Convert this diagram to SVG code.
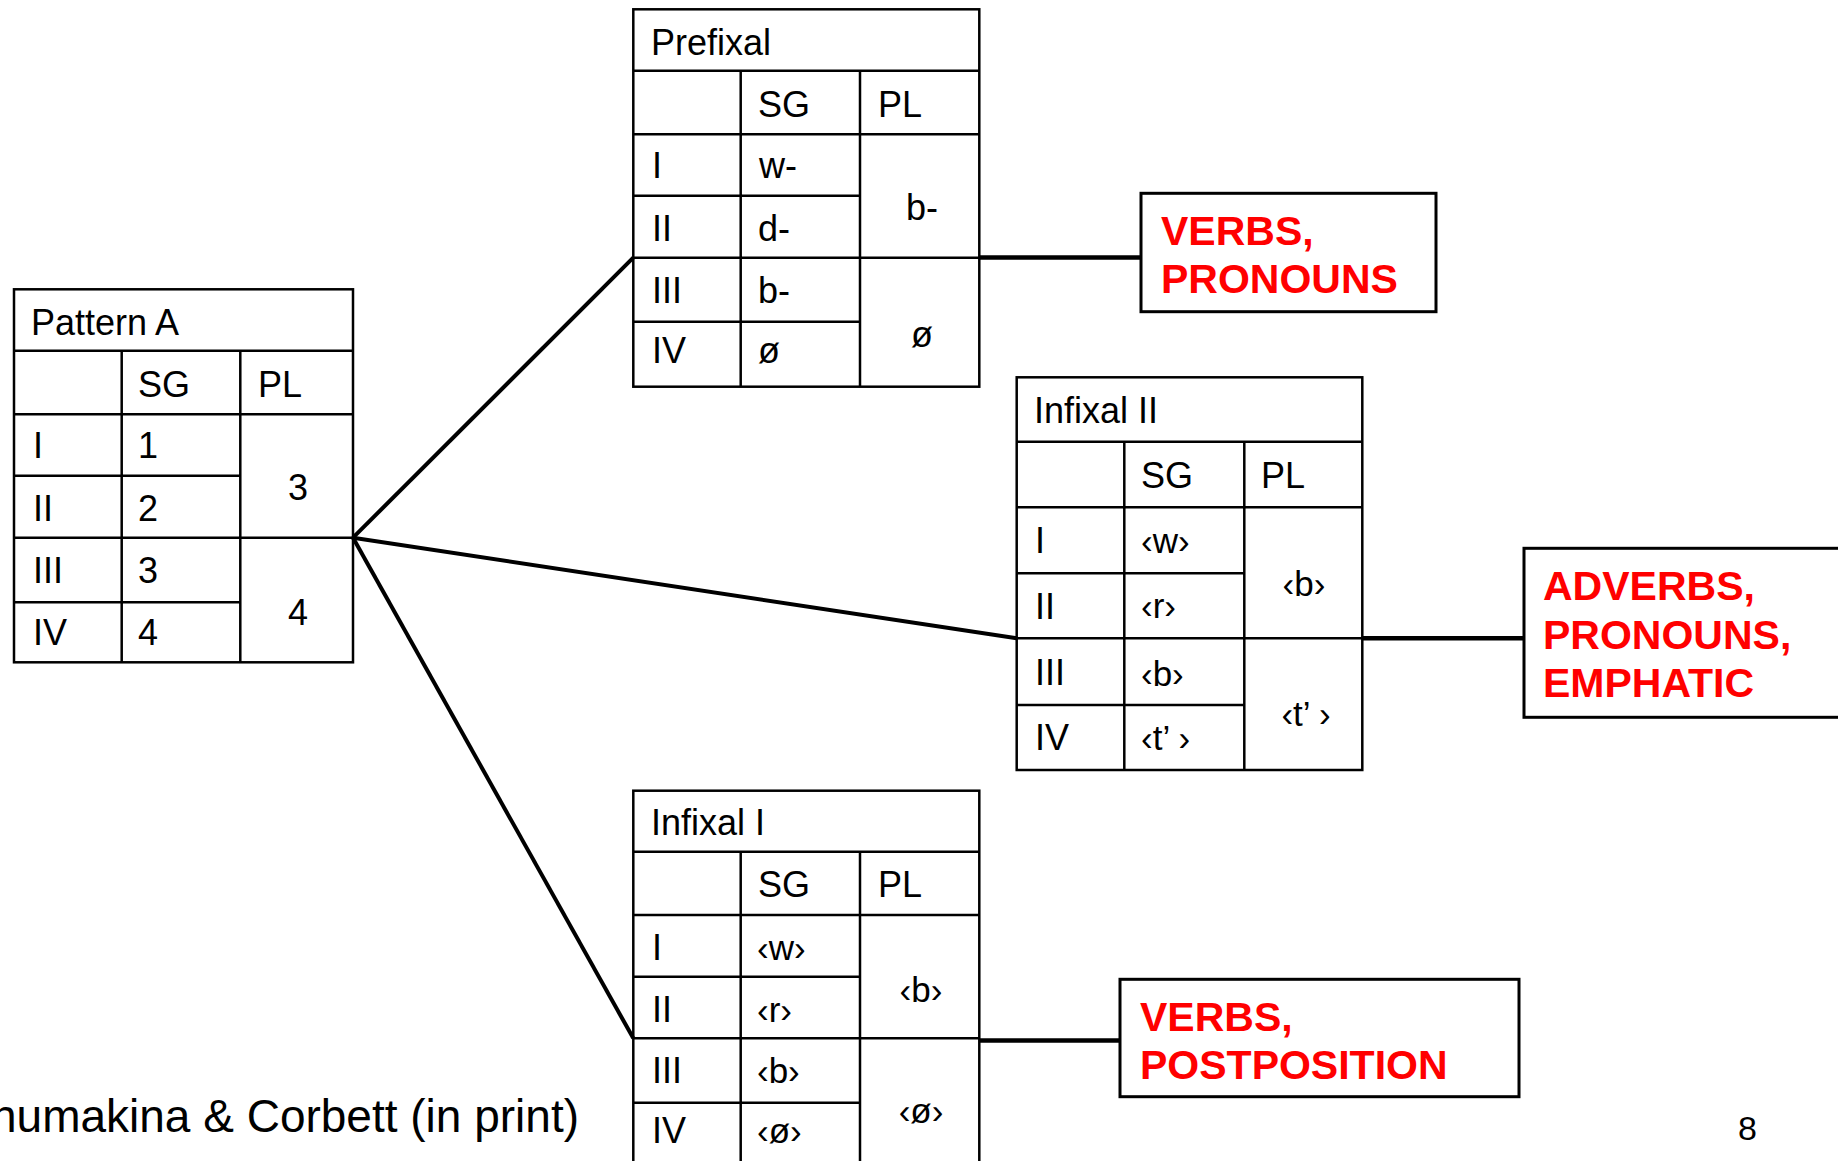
<svg xmlns="http://www.w3.org/2000/svg" width="1838" height="1161" viewBox="0 0 1838 1161">
<style>
  .grid { fill: none; stroke: #000; stroke-width: 2.5; }
  .t { font-family: "Liberation Sans", Arial, sans-serif; font-size: 36px; fill: #000; }
  .s { font-family: "Liberation Sans", Arial, sans-serif; font-size: 35px; fill: #000; }
  .m { text-anchor: middle; }
  .box { fill: #fff; stroke: #000; stroke-width: 3; }
  .lab { font-family: "Liberation Sans", Arial, sans-serif; font-size: 41px; font-weight: bold; fill: #ff0000; }
  .conn { stroke: #000; stroke-width: 4; fill: none; }
  .hconn { stroke: #000; stroke-width: 4.5; fill: none; }
</style>
<rect width="1838" height="1161" fill="#fff"/>

<g id="connectors">
  <line class="conn" x1="353" y1="537.7" x2="633.3" y2="257.7"/>
  <line class="conn" x1="353" y1="537.7" x2="1016.7" y2="638.3"/>
  <line class="conn" x1="353" y1="537.7" x2="633.3" y2="1038.3"/>
  <line class="hconn" x1="979.3" y1="257.5" x2="1141" y2="257.5"/>
  <line class="hconn" x1="1362.3" y1="638.3" x2="1524" y2="638.3"/>
  <line class="hconn" x1="979.3" y1="1040.5" x2="1120" y2="1040.5"/>
</g>

<g id="pattern-a">
  <rect class="grid" x="14" y="289.3" width="339" height="373"/>
  <path class="grid" d="M14 350.7H353M14 414.3H353M14 537.7H353M14 475.7H240.3M14 602.3H240.3M121.7 350.7V662.3M240.3 350.7V662.3"/>
  <text class="t" x="31" y="335">Pattern A</text>
  <text class="t" x="138" y="397">SG</text>
  <text class="t" x="258" y="397">PL</text>
  <text class="t" x="33" y="458">I</text>
  <text class="t" x="33" y="521">II</text>
  <text class="t" x="33" y="583">III</text>
  <text class="t" x="33" y="645">IV</text>
  <text class="t" x="138" y="458">1</text>
  <text class="t" x="138" y="521">2</text>
  <text class="t" x="138" y="583">3</text>
  <text class="t" x="138" y="645">4</text>
  <text class="t m" x="298" y="500">3</text>
  <text class="t m" x="298" y="625">4</text>
</g>

<g id="prefixal">
  <rect class="grid" x="633.3" y="9.3" width="346" height="377.4"/>
  <path class="grid" d="M633.3 70.7H979.3M633.3 134.3H979.3M633.3 257.7H979.3M633.3 195.7H860M633.3 321.7H860M740.7 70.7V386.7M860 70.7V386.7"/>
  <text class="t" x="651" y="55">Prefixal</text>
  <text class="t" x="758" y="117">SG</text>
  <text class="t" x="878" y="117">PL</text>
  <text class="t" x="652" y="178">I</text>
  <text class="t" x="652" y="241">II</text>
  <text class="t" x="652" y="303">III</text>
  <text class="t" x="652" y="363">IV</text>
  <text class="t" x="759" y="178">w-</text>
  <text class="t" x="758" y="241">d-</text>
  <text class="t" x="758" y="303">b-</text>
  <text class="t" x="758" y="363">ø</text>
  <text class="t m" x="922" y="220">b-</text>
  <text class="t m" x="922" y="347">ø</text>
</g>

<g id="infixal-ii">
  <rect class="grid" x="1016.7" y="377.3" width="345.6" height="392.7"/>
  <path class="grid" d="M1016.7 441.7H1362.3M1016.7 507.3H1362.3M1016.7 638.3H1362.3M1016.7 573.3H1244.3M1016.7 705H1244.3M1124.3 441.7V770M1244.3 441.7V770"/>
  <text class="t" x="1034" y="423">Infixal II</text>
  <text class="t" x="1141" y="488">SG</text>
  <text class="t" x="1261" y="488">PL</text>
  <text class="t" x="1035" y="553">I</text>
  <text class="t" x="1035" y="619">II</text>
  <text class="t" x="1035" y="685">III</text>
  <text class="t" x="1035" y="750">IV</text>
  <text class="s" x="1141" y="553">‹w›</text>
  <text class="s" x="1141" y="618">‹r›</text>
  <text class="s" x="1141" y="686">‹b›</text>
  <text class="s" x="1141" y="750">‹t’ ›</text>
  <text class="s m" x="1304" y="596">‹b›</text>
  <text class="s m" x="1306" y="726">‹t’ ›</text>
</g>

<g id="infixal-i">
  <rect class="grid" x="633.3" y="790.7" width="346" height="380"/>
  <path class="grid" d="M633.3 851.7H979.3M633.3 915H979.3M633.3 1038.3H979.3M633.3 976.7H860M633.3 1102.7H860M740.7 851.7V1170M860 851.7V1170"/>
  <text class="t" x="651" y="835">Infixal I</text>
  <text class="t" x="758" y="897">SG</text>
  <text class="t" x="878" y="897">PL</text>
  <text class="t" x="652" y="960">I</text>
  <text class="t" x="652" y="1022">II</text>
  <text class="t" x="652" y="1083">III</text>
  <text class="t" x="652" y="1143">IV</text>
  <text class="s" x="757" y="960">‹w›</text>
  <text class="s" x="757" y="1022">‹r›</text>
  <text class="s" x="757" y="1083">‹b›</text>
  <text class="s" x="757" y="1143">‹ø›</text>
  <text class="s m" x="921" y="1002">‹b›</text>
  <text class="s m" x="921" y="1123">‹ø›</text>
</g>

<g id="verbs-pronouns">
  <rect class="box" x="1141" y="193.3" width="295" height="118.4"/>
  <text class="lab" x="1161" y="245">VERBS,</text>
  <text class="lab" x="1161" y="293">PRONOUNS</text>
</g>

<g id="adverbs-pronouns-emphatic">
  <rect class="box" x="1524" y="548.3" width="330" height="169"/>
  <text class="lab" x="1543" y="600">ADVERBS,</text>
  <text class="lab" x="1543" y="649">PRONOUNS,</text>
  <text class="lab" x="1543" y="697">EMPHATIC</text>
</g>

<g id="verbs-postposition">
  <rect class="box" x="1120" y="979.3" width="399" height="117.4"/>
  <text class="lab" x="1140" y="1031">VERBS,</text>
  <text class="lab" x="1140" y="1079">POSTPOSITION</text>
</g>

<text class="t" x="579" y="1132" style="font-size:46px;text-anchor:end">humakina &amp; Corbett (in print)</text>
<text class="t" x="1738" y="1140" style="font-size:34px">8</text>
</svg>
